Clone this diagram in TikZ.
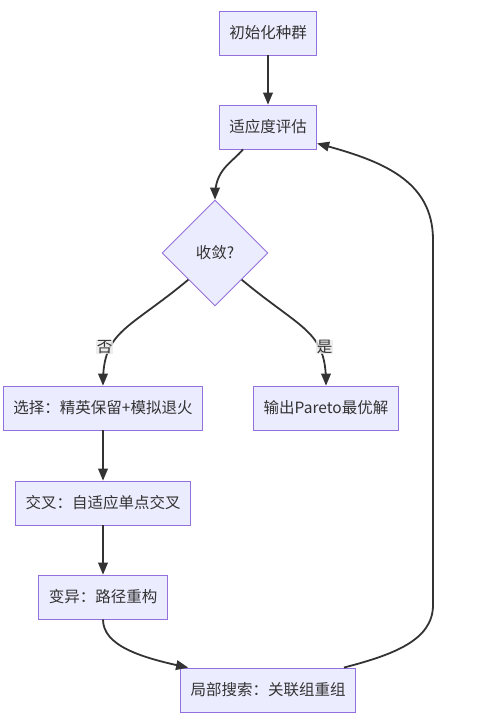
\documentclass[tikz,border=0pt]{standalone}
\usepackage{fontspec}
\setmainfont{Noto Sans CJK SC}
\usepackage{tikz}
\usetikzlibrary{arrows,shapes.geometric}
\definecolor{boxfill}{HTML}{ECECFF}
\definecolor{boxline}{HTML}{9370DB}
\definecolor{ink}{HTML}{333333}
\definecolor{lblfill}{HTML}{E8E8E8}

\begin{document}
\begin{tikzpicture}[x=1pt,y=1pt]
  \tikzstyle{every node}=[font=\fontsize{15.5}{18}\selectfont, text=ink]
  \tikzstyle{box}=[draw=boxline, fill=boxfill, line width=0.9pt, minimum height=44pt, inner xsep=10pt]
  \tikzstyle{decision}=[diamond, aspect=1, draw=boxline, fill=boxfill, line width=0.9pt, minimum width=106pt, minimum height=106pt, inner sep=0pt]
  \tikzstyle{flow}=[draw=ink, line width=1.8pt, -triangle 45]
  \tikzstyle{lbl}=[fill=lblfill, fill opacity=0.8, text opacity=1, inner sep=0.5pt]
  \useasboundingbox (0,0) rectangle (500,-725);
  \node[box] (1) at (268,-33) {初始化种群};
  \node[box] (2) at (268,-127) {适应度评估};
  \node[decision] (3) at (215,-253) {收敛?};
  \node[box] (4) at (103,-408) {选择：精英保留+模拟退火};
  \node[box] (5) at (326,-408) {输出Pareto最优解};
  \node[box] (6) at (103,-503) {交叉：自适应单点交叉};
  \node[box] (7) at (103,-597) {变异：路径重构};
  \node[box] (8) at (268,-690) {局部搜索：关联组重组};
  \draw[flow] (1) -- (2);
  \draw[flow] ([xshift=-25pt]2.south) .. controls +(-12,-14) and +(0,30) .. (3.north);
  \draw[flow] (3.south west) .. controls +(-60,-50) and +(0,55) .. (4.north)
    node[pos=0.69, xshift=-6pt, lbl] {否};
  \draw[flow] (3.south east) .. controls +(60,-50) and +(0,55) .. (5.north)
    node[pos=0.69, xshift=6pt, lbl] {是};
  \draw[flow] (4) -- (6);
  \draw[flow] (6) -- (7);
  \draw[flow] (7.south) .. controls +(0,-26) and +(-48,10) .. ([xshift=8pt]8.north west);
  % loop back to evaluation
  \draw[flow] ([xshift=-12pt]8.north east) .. controls +(50,13) and +(0,-35) .. (433,-605)
    -- (433,-240) .. controls +(0,60) and +(64,-17) .. ([yshift=6pt]2.south east);
\end{tikzpicture}
\end{document}
